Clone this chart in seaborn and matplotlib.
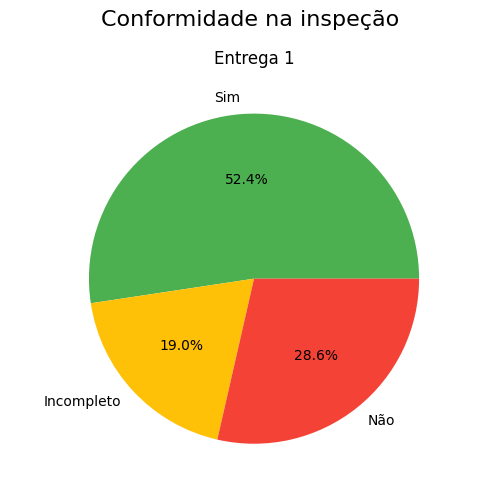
import matplotlib
matplotlib.use("Agg")
import matplotlib.pyplot as plt
import seaborn as sns

labels = ["Sim", "Incompleto", "Não"]
counts = [11, 4, 6]
colors = ["#4CAF50", "#FFC107", "#F44336"]

palette = sns.color_palette(colors)

fig, ax = plt.subplots(figsize=(5, 5), dpi=100)
ax.pie(counts, labels=labels, colors=palette, autopct="%1.1f%%")
ax.set_title("Entrega 1", fontsize=12)
fig.suptitle("Conformidade na inspeção", fontsize=16)
fig.tight_layout()
fig.savefig("out.png", dpi=100)
